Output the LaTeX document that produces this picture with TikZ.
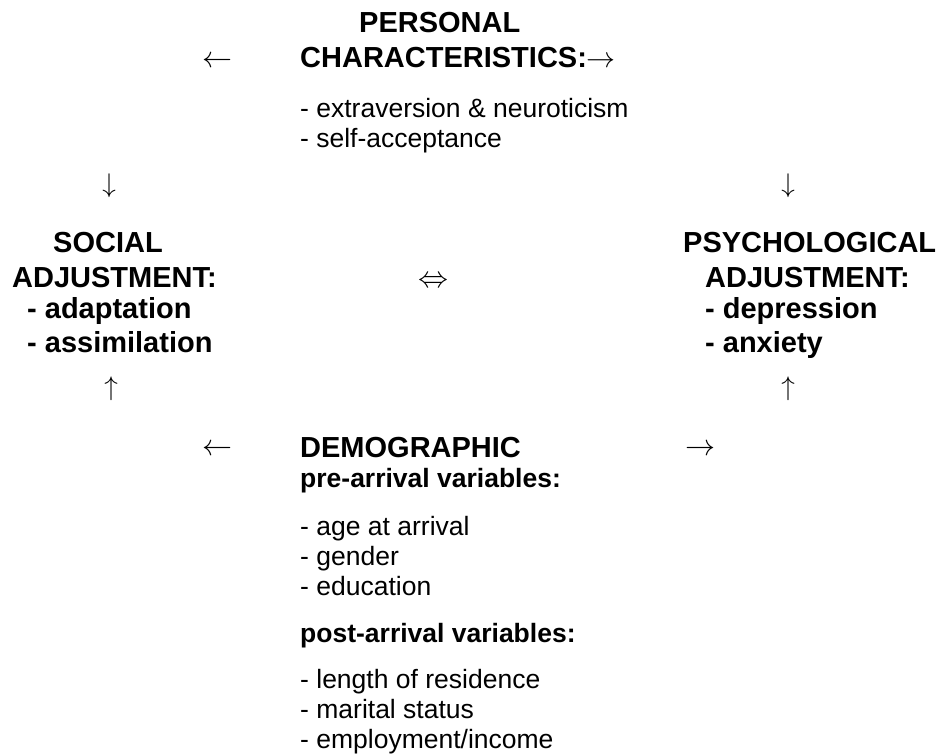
\RequirePackage{fix-cm}
\documentclass[tikz,border=0pt]{standalone}
\usepackage{fontspec}
\setmainfont{Liberation Sans}

\begin{document}
\begin{tikzpicture}[
    x=1pt, y=-1pt,
    head/.style={anchor=base west, inner sep=0pt, font=\fontsize{29}{34}\selectfont\bfseries},
    sub/.style={anchor=base west, inner sep=0pt, font=\fontsize{26.5}{30}\selectfont\bfseries},
    item/.style={anchor=base west, inner sep=0pt, font=\fontsize{26.5}{30}\selectfont},
    glyph/.style={inner sep=0pt, font=\fontsize{30}{34}\selectfont},
    vglyph/.style={inner sep=0pt, font=\fontsize{27}{30}\selectfont},
]
    \useasboundingbox (0,0) rectangle (940,755);

    % personal characteristics
    \node[head]  (persA)  at (359,32)  {PERSONAL};
    \node[head]  (persB)  at (300,67)  {CHARACTERISTICS:$\rightarrow$};
    \node[glyph] (persL)  at (217,62)  {$\leftarrow$};
    \node[item]  (persI1) at (300,117) {- extraversion \& neuroticism};
    \node[item]  (persI2) at (300,147) {- self-acceptance};

    % social adjustment
    \node[vglyph] (socDn) at (109,186) {$\downarrow$};
    \node[head]   (socA)  at (53,252)  {SOCIAL};
    \node[head]   (socB)  at (12,287)  {ADJUSTMENT:};
    \node[head]   (socI1) at (27,318)  {- adaptation};
    \node[head]   (socI2) at (27,352)  {- assimilation};
    \node[vglyph] (socUp) at (111,389) {$\uparrow$};

    \node[glyph] (both) at (433,282) {$\Leftrightarrow$};

    % psychological adjustment
    \node[vglyph] (psyDn) at (788,186) {$\downarrow$};
    \node[head]   (psyA)  at (683,252) {PSYCHOLOGICAL};
    \node[head]   (psyB)  at (705,287) {ADJUSTMENT:};
    \node[head]   (psyI1) at (705,318) {- depression};
    \node[head]   (psyI2) at (705,352) {- anxiety};
    \node[vglyph] (psyUp) at (788,389) {$\uparrow$};

    % demographic
    \node[glyph] (demL) at (217,450) {$\leftarrow$};
    \node[head]  (demA) at (300,457) {DEMOGRAPHIC};
    \node[glyph] (demR) at (700,450) {$\rightarrow$};
    \node[sub]   (preH) at (300,487) {pre-arrival variables:};
    \foreach \t [count=\i] in {age at arrival, gender, education}
        \node[item] (preI\i) at (300,505+30*\i) {- \t};
    \node[sub]   (postH) at (300,642) {post-arrival variables:};
    \foreach \t [count=\i] in {length of residence, marital status, employment/income}
        \node[item] (postI\i) at (300,658+30*\i) {- \t};
\end{tikzpicture}
\end{document}
